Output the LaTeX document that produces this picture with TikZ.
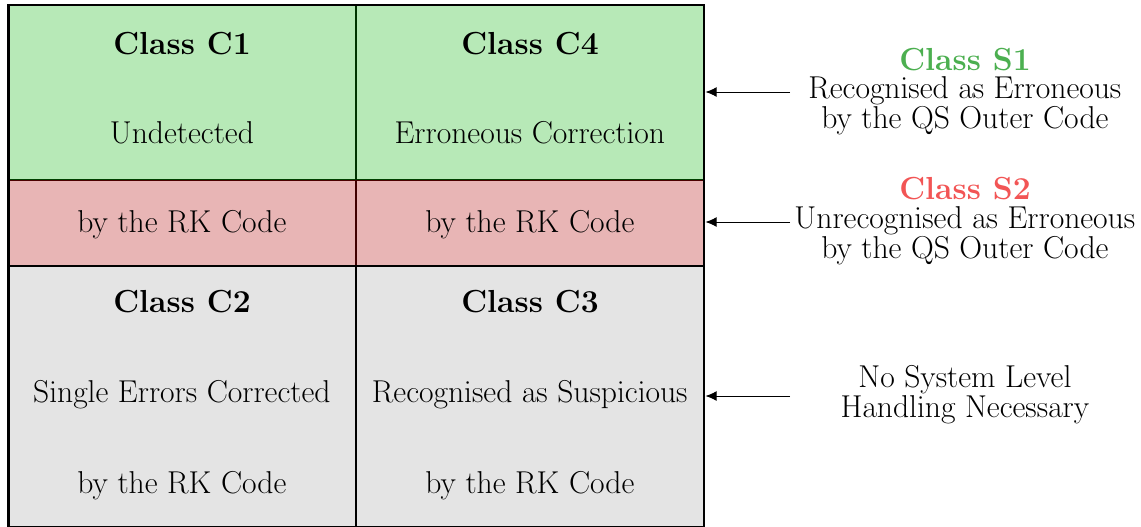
\documentclass[tikz,border=0pt]{standalone}
\usetikzlibrary{arrows.meta}
\definecolor{cellgreen}{HTML}{B7E9B7}
\definecolor{cellred}{HTML}{E8B5B5}
\definecolor{cellgray}{HTML}{E4E4E4}
\definecolor{sgreen}{HTML}{4CAF50}
\definecolor{sred}{HTML}{F25555}
% large optical size for the descriptive text
\font\bodyfont=cmr17 at 12.9pt
\tikzset{
  body/.style={font={\bodyfont\baselineskip=12.2pt}, inner sep=0pt, align=center},
  title/.style={font=\fontsize{13}{13}\selectfont\bfseries, inner sep=0pt},
  frame/.style={line width=1.1pt},
  pointer/.style={line width=0.4pt, -{Latex[length=4.5pt,width=4pt]}},
}
\begin{document}
\begin{tikzpicture}[x=0.408pt, y=-0.408pt]
\useasboundingbox (0,0) rectangle (1141,526);
% cell fills
\fill[cellgreen] (8.5,5) rectangle (704,180);
\fill[cellred]   (8.5,180) rectangle (704,266);
\fill[cellgray]  (8.5,266) rectangle (704,527);
% thin cell borders
\draw[green!25!black, line width=0.5pt] (8.5,180) -- (704,180);
\draw[red!30!black, line width=0.5pt] (8.5,180.5) -- (704,180.5);
% middle divider, tinted per row
\draw[green!20!black, frame] (356,5) -- (356,180);
\draw[red!25!black, frame] (356,180) -- (356,266);
\draw[black, frame] (356,266) -- (356,527);
% thick divider above the gray row
\draw[frame] (8.5,266) -- (704,266);
% outer frame
\draw[frame] (8.5,527) -- (8.5,5) -- (704,5) -- (704,527) -- cycle;

% cell texts
\node[title] (c1t) at (182,44) {Class C1};
\node[body]  (c1d) at (182,133) {Undetected};
\node[title] (c4t) at (530,44) {Class C4};
\node[body]  (c4d) at (530,133) {Erroneous Correction};
\node[body]  (r1)  at (182,225) {by the RK Code};
\node[body]  (r4)  at (530,225) {by the RK Code};
\node[title] (c2t) at (182,302) {Class C2};
\node[body]  (c2d) at (182,395) {Single Errors Corrected};
\node[body]  (c2r) at (182,486) {by the RK Code};
\node[title] (c3t) at (530,302) {Class C3};
\node[body]  (c3d) at (530,395) {Recognised as Suspicious};
\node[body]  (c3r) at (530,486) {by the RK Code};

% system level classes
\node[title, text=sgreen] (s1t) at (965,60) {Class S1};
\node[body] (s1d) at (965,106) {Recognised as Erroneous\\by the QS Outer Code};
\node[title, text=sred] (s2t) at (965,189) {Class S2};
\node[body] (s2d) at (965,236) {Unrecognised as Erroneous\\by the QS Outer Code};
\node[body] (s3d) at (965,395) {No System Level\\Handling Necessary};

% pointers into the table
\coordinate (p1s) at (790,92);  \coordinate (p1e) at (705.5,92);
\coordinate (p2s) at (790,222); \coordinate (p2e) at (705.5,222);
\coordinate (p3s) at (790,396); \coordinate (p3e) at (705.5,396);
\draw[pointer] (p1s) -- (p1e);
\draw[pointer] (p2s) -- (p2e);
\draw[pointer] (p3s) -- (p3e);
\end{tikzpicture}
\end{document}
